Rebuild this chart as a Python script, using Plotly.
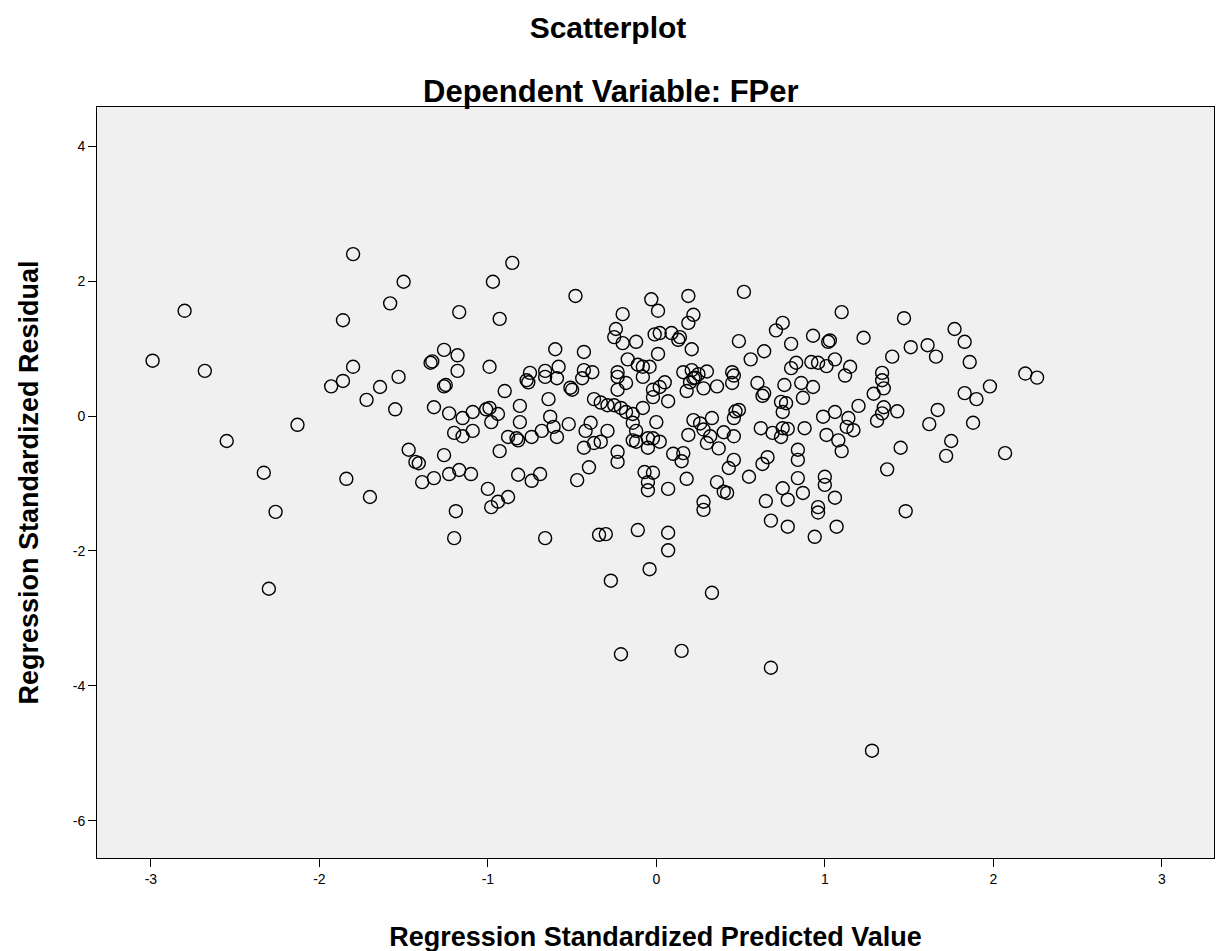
import plotly.graph_objects as go

# Regression standardized predicted value (x) and standardized residual (y)
pred_values = [
    -2.99, -2.8, -2.68, -2.55, -2.33, -2.26, -2.3, -2.13, -1.8, -1.86, -1.8, -1.93, -1.86, -1.72, -1.84, -1.7,
    -1.55, -1.64, -1.53, -1.5, -1.58, -0.855, -0.97, -0.48, -1.17, -0.93, -1.26, -1.18, -1.34, -1.33, -0.6, -0.43,
    -1.18, -0.99, -0.75, -0.66, -0.58, -0.43, -0.38, -1.26, -1.25, -1.32, -1.23, -1.15, -1.09, -1.01, -0.99, -0.94,
    -0.98, -1.2, -1.15, -1.09, -0.9, -0.76, -0.77, -0.81, -0.64, -0.59, -0.66, -0.5, -0.51, -0.44, -0.37, -0.81,
    -0.88, -0.83, -0.82, -0.74, -0.68, -0.63, -0.61, -0.59, -0.52, -0.93, -1.47, -1.43, -1.41, -1.26, -1.39, -1.32,
    -1.23, -1.17, -1.1, -0.82, -0.74, -0.69, -0.47, -0.4, -0.43, -0.37, -0.42, -0.39, -1.0, -0.94, -0.88, -0.98,
    -1.19, -1.2, -0.66, -0.34,
    0.52, -0.03, 0.19, 0.01, -0.2, 0.22, 0.19, -0.24, -0.25, -0.2, -0.12, -0.01, 0.02, 0.09, 0.14, 0.13,
    0.21, 0.01, -0.17, -0.11, -0.08, -0.04, -0.23, 0.49, 0.64, 0.56, 0.71, 0.75, 0.8, 0.93, 1.02, 1.03,
    0.83, 0.92, 0.96, 1.01, 0.8, 0.45, 0.16, 0.21, 0.25, 0.3, 0.23,
    1.1, 1.47, 1.77, 1.83, 1.23, 1.51, 1.61, 1.66, 1.4, 1.86, 1.06, 1.15, 1.34, 2.19, 2.26,
    1.12, 1.34, 1.35, 1.29, 1.2, 1.35, 1.43, 1.34, 1.31, 1.14, 1.13, 1.17, 1.06, 1.08, 1.1, 1.67,
    1.62, 1.83, 1.9, 1.98, 1.88, 1.45, 1.75, 1.72, 2.07, 1.37, 1.06, 1.48, 1.07,
    0.28, -0.3, -0.11, 0.07, 0.07, -0.04, -0.27, 0.33, 0.68, 0.78, 0.96, 0.94,
    -0.21, 0.15, 0.68, 1.28,
    -0.23, -0.18, -0.23, -0.08, -0.02, 0.02, 0.05, 0.07, -0.02, 0.18, 0.2, 0.22, 0.28, 0.36, 0.45, 0.46,
    0.6, 0.64, 0.63, 0.76, 0.74, 0.77, 0.75, 0.86, 0.93, 0.87, 0.99, -0.29, -0.25, -0.21, -0.18, -0.14,
    -0.08, 0.0, -0.14, -0.12, -0.14, -0.12, -0.05, -0.02, 0.02, -0.05, -0.29, -0.33, -0.23, -0.23, 0.1, 0.16,
    0.15, 0.22, 0.26, 0.33, 0.28, 0.19, 0.3, 0.32, 0.37, 0.4, 0.46, 0.46, 0.47, 0.49, 0.62, 0.69,
    0.75, 0.78, 0.74, 0.88, 0.84, 0.84, 1.01, 0.46, 0.43, 0.66, 0.63, 0.55, -0.07, -0.02, -0.05, -0.05,
    0.07, 0.18, 0.36, 0.4, 0.42, 0.28, 0.65, 0.75, 0.78, 0.87, 0.84, 1.0, 1.0, 0.96, -0.33,
]
resid_values = [
    0.82, 1.56, 0.67, -0.37, -0.84, -1.42, -2.56, -0.13, 2.4, 1.42, 0.73, 0.44, 0.52, 0.24, -0.93, -1.2,
    0.1, 0.43, 0.58, 1.99, 1.67, 2.27, 1.99, 1.78, 1.54, 1.44, 0.98, 0.9, 0.79, 0.81, 0.99, 0.95,
    0.67, 0.73, 0.64, 0.67, 0.73, 0.68, 0.65, 0.44, 0.46, 0.13, 0.04, -0.03, 0.06, 0.1, 0.12, 0.03,
    -0.09, -0.25, -0.3, -0.22, 0.37, 0.5, 0.53, 0.15, 0.25, 0.56, 0.58, 0.39, 0.42, 0.56, 0.25, -0.09,
    -0.31, -0.33, -0.36, -0.31, -0.22, -0.01, -0.16, -0.31, -0.12, -0.52, -0.5, -0.68, -0.7, -0.58, -0.98, -0.92,
    -0.86, -0.8, -0.86, -0.87, -0.96, -0.86, -0.95, -0.76, -0.47, -0.4, -0.22, -0.1, -1.08, -1.27, -1.2, -1.35,
    -1.41, -1.81, -1.81, -1.76,
    1.84, 1.73, 1.78, 1.56, 1.51, 1.5, 1.38, 1.29, 1.17, 1.08, 1.1, 1.21, 1.23, 1.23, 1.17, 1.13,
    0.99, 0.92, 0.84, 0.76, 0.73, 0.73, 0.65, 1.11, 0.96, 0.84, 1.27, 1.38, 1.07, 1.19, 1.1, 1.12,
    0.79, 0.8, 0.79, 0.74, 0.71, 0.65, 0.65, 0.68, 0.62, 0.66, 0.57,
    1.54, 1.45, 1.29, 1.1, 1.16, 1.02, 1.05, 0.88, 0.88, 0.8, 0.84, 0.73, 0.64, 0.63, 0.57,
    0.6, 0.53, 0.41, 0.33, 0.15, 0.13, 0.07, 0.04, -0.07, -0.03, -0.16, -0.21, 0.06, -0.36, -0.52, 0.09,
    -0.12, 0.34, 0.25, 0.44, -0.1, -0.47, -0.37, -0.59, -0.55, -0.79, -1.21, -1.41, -1.64,
    -1.39, -1.75, -1.69, -1.73, -1.99, -2.27, -2.44, -2.62, -1.55, -1.64, -1.43, -1.79,
    -3.53, -3.48, -3.73, -4.96,
    0.58, 0.49, 0.39, 0.58, 0.39, 0.43, 0.5, 0.22, 0.28, 0.37, 0.5, 0.56, 0.41, 0.44, 0.49, 0.6,
    0.49, 0.34, 0.3, 0.46, 0.21, 0.19, 0.06, 0.49, 0.43, 0.27, -0.01, 0.16, 0.16, 0.12, 0.06, 0.03,
    0.12, -0.09, -0.1, -0.22, -0.36, -0.38, -0.33, -0.33, -0.38, -0.47, -0.22, -0.38, -0.53, -0.68, -0.56, -0.55,
    -0.67, -0.06, -0.11, -0.03, -0.2, -0.28, -0.4, -0.3, -0.48, -0.24, -0.3, -0.03, 0.07, 0.09, -0.18, -0.25,
    -0.18, -0.19, -0.31, -0.18, -0.5, -0.65, -0.28, -0.65, -0.77, -0.61, -0.71, -0.9, -0.83, -0.84, -0.98, -1.1,
    -1.08, -0.93, -0.98, -1.12, -1.14, -1.27, -1.26, -1.07, -1.24, -1.14, -0.92, -0.9, -1.02, -1.35, 0.2,
]

x_ticks = [-3, -2, -1, 0, 1, 2, 3]
y_ticks = [-6, -4, -2, 0, 2, 4]

FONT = "Arial, 'Liberation Sans', sans-serif"
W, H = 1224, 951
OFF = 8  # page body margin offset
TITLE_SIZE = 30
SUBTITLE_SIZE = 31
AXIS_TITLE_SIZE = 27

fig = go.Figure(
    go.Scatter(
        x=pred_values,
        y=resid_values,
        mode="markers",
        marker=dict(symbol="circle-open", size=13, color="black", line=dict(width=1.4, color="black")),
        hoverinfo="x+y",
    )
)

fig.update_layout(
    width=W,
    height=H,
    margin=dict(l=97 - OFF, r=10 + OFF, t=107 - OFF, b=93 + OFF),
    paper_bgcolor="white",
    plot_bgcolor="#F0F0F0",
    showlegend=False,
    font=dict(family=FONT, color="black"),
    title=dict(
        text="<b>Scatterplot</b>",
        x=(608 - OFF) / W,
        xanchor="center",
        y=1 - (27 - OFF) / H,
        yanchor="middle",
        yref="container",
        font=dict(size=TITLE_SIZE, family=FONT, color="black"),
    ),
    annotations=[
        dict(
            text="<b>Dependent Variable: FPer</b>",
            xref="paper",
            yref="paper",
            x=0.46,
            y=(858 - 91) / 751,
            xanchor="center",
            yanchor="middle",
            showarrow=False,
            font=dict(size=SUBTITLE_SIZE, family=FONT, color="black"),
        )
    ],
)

fig.update_xaxes(
    range=[-3.32, 3.31],
    tickvals=x_ticks,
    ticktext=[str(v) for v in x_ticks],
    ticks="outside",
    ticklen=8,
    tickcolor="black",
    tickfont=dict(size=14, family=FONT, color="black"),
    showgrid=False,
    zeroline=False,
    showline=True,
    linecolor="black",
    linewidth=1,
    mirror=True,
    automargin=False,
    title=dict(
        text="<b>Regression Standardized Predicted Value</b>",
        font=dict(size=AXIS_TITLE_SIZE, family=FONT, color="black"),
        standoff=41,
    ),
)
fig.update_yaxes(
    range=[-6.55, 4.58],
    tickvals=y_ticks,
    ticktext=[str(v) for v in y_ticks],
    ticks="outside",
    ticklen=8,
    tickcolor="black",
    tickfont=dict(size=14, family=FONT, color="black"),
    showgrid=False,
    zeroline=False,
    showline=True,
    linecolor="black",
    linewidth=1,
    mirror=True,
    automargin=False,
    title=dict(
        text="<b>Regression Standardized Residual</b>",
        font=dict(size=AXIS_TITLE_SIZE, family=FONT, color="black"),
        standoff=26,
    ),
)

fig.write_html("out.html")
